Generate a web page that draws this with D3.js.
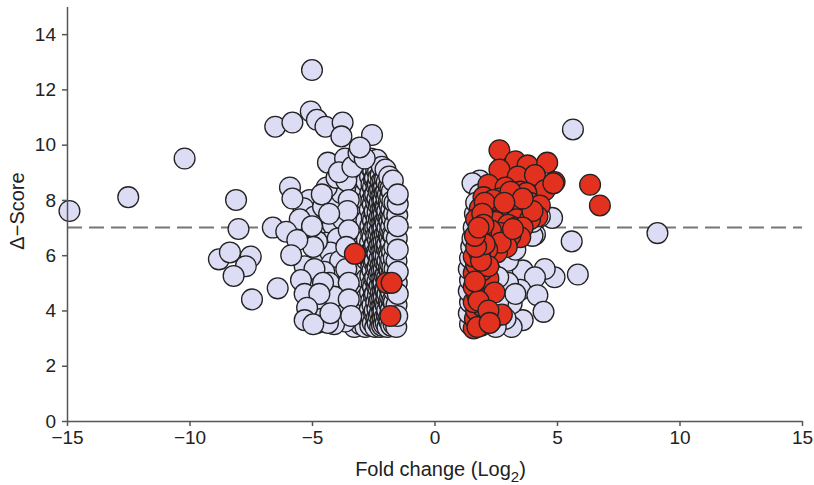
<!DOCTYPE html>
<html>
  <head>
    <style type="text/css">
      body { margin:0; background:#fff; }
      * { font-family:"Liberation Sans",Arial,Helvetica,sans-serif; }
      .axis path, .axis line { stroke:#555; stroke-width:1.5px; }
      .axis text { font-size:19px; fill:#222; }
      circle { stroke:#222; stroke-width:1.3px; }
    </style>
  </head>
  <body>
    <div id="canvas"></div>
    <script src="https://d3js.org/d3.v7.min.js"></script>
    <script type="text/javascript">

    // data: [fold change (log2), delta score]
    var xTicks = [-15, -10, -5, 0, 5, 10, 15];
    var yTicks = [0, 2, 4, 6, 8, 10, 12, 14];
    var threshold = 7;

    var downOutliers = [
      [-14.9,7.6],[-12.5,8.1],[-10.2,9.5],[-8.1,8.0],[-8.0,6.95],[-8.8,5.85],[-8.35,6.1],[-7.5,5.95],
      [-7.7,5.6],[-8.2,5.25],[-7.45,4.4],[-6.4,4.8],[-6.6,7.0],[-6.5,10.65],[-5.8,10.8],[-5.0,12.7],
      [-5.05,11.2],[-4.8,10.9],[-4.45,10.65],[-3.75,10.8],[-3.8,10.3],[-2.55,10.35],[-3.05,9.9],
      [-6.05,6.85],[-5.9,8.45],[-5.8,8.05],[-5.6,6.55],[-5.85,6.0],[-5.3,4.6],[-4.7,4.6],[-5.2,4.1],
      [-5.3,3.65],[-4.95,3.5],[-4.25,3.9]
    ];

    var downSpread = [
      [-4.35,9.35],[-3.65,9.5],[-5.1,8.0],[-5.35,7.7],[-4.9,7.4],[-4.55,7.75],[-4.15,8.0],[-3.8,8.25],
      [-4.4,8.45],[-5.15,6.7],[-4.6,6.9],[-4.15,7.1],[-3.75,7.3],[-4.4,6.45],[-3.95,6.6],[-4.75,6.0],
      [-4.25,6.1],[-4.2,5.7],[-3.85,5.8],[-4.0,5.2],[-3.8,4.85],[-4.75,4.55],[-4.4,4.2],[-4.8,3.55],
      [-3.8,4.0],[-3.65,3.6],[-4.0,8.8],[-3.6,8.7],[-3.9,9.0],[-4.6,8.2],[-3.5,8.0],[-3.55,7.6],
      [-4.3,7.5],[-3.5,6.9],[-4.8,6.5],[-3.6,6.3],[-4.5,5.4],[-3.6,5.5],[-4.3,5.0],[-3.5,5.0],
      [-4.1,4.5],[-3.5,4.4],[-4.1,3.5],[-3.4,3.8],[-5.0,5.0],[-4.6,3.7],[-3.35,9.2],[-3.1,9.7],[-2.85,9.5],
      [-5.5,7.3],[-5.0,7.05],[-4.95,6.3],[-5.3,5.6],[-4.9,5.5],[-5.45,5.1],[-4.55,5.0],[-4.35,3.55]
    ];

    var downCore = [
      [-3.27,3.4],[-3.2,3.92],[-3.3,4.4],[-3.22,4.88],[-3.28,5.42],[-3.2,5.9],[-3.3,6.45],[-3.23,6.9],
      [-3.27,7.42],[-3.2,7.88],[-3.3,8.4],[-3.22,8.9],
      [-3.02,3.5],[-2.95,3.88],[-3.05,4.3],[-2.98,4.72],[-3.04,5.1],[-2.96,5.52],[-3.03,5.9],[-2.97,6.3],
      [-3.05,6.72],[-2.98,7.1],[-3.02,7.52],[-2.95,7.9],[-3.04,8.3],[-2.97,8.72],[-3.0,9.1],
      [-2.82,3.4],[-2.76,3.77],[-2.84,4.1],[-2.78,4.45],[-2.83,4.82],[-2.77,5.15],[-2.84,5.5],[-2.79,5.86],
      [-2.82,6.2],[-2.76,6.56],[-2.83,6.9],[-2.78,7.25],[-2.84,7.6],[-2.77,7.96],[-2.82,8.3],[-2.78,8.66],
      [-2.83,9.0],[-2.77,9.35],
      [-2.62,3.45],[-2.57,3.76],[-2.64,4.05],[-2.58,4.36],[-2.63,4.65],[-2.56,4.96],[-2.62,5.25],[-2.58,5.56],
      [-2.64,5.85],[-2.57,6.16],[-2.63,6.45],[-2.58,6.76],[-2.62,7.05],[-2.56,7.36],[-2.64,7.65],[-2.58,7.96],
      [-2.62,8.25],[-2.57,8.56],[-2.63,8.85],[-2.58,9.16],[-2.6,9.5],
      [-2.42,3.4],[-2.37,3.7],[-2.44,4.0],[-2.38,4.3],[-2.43,4.6],[-2.36,4.9],[-2.42,5.2],[-2.38,5.5],
      [-2.44,5.8],[-2.37,6.1],[-2.43,6.4],[-2.38,6.7],[-2.42,7.0],[-2.36,7.3],[-2.44,7.6],[-2.38,7.9],
      [-2.42,8.2],[-2.37,8.5],[-2.43,8.8],[-2.38,9.1],[-2.35,9.45],
      [-2.22,3.4],[-2.18,3.65],[-2.23,3.9],[-2.17,4.15],[-2.22,4.4],[-2.18,4.65],[-2.23,4.9],[-2.17,5.15],
      [-2.22,5.4],[-2.18,5.65],[-2.23,5.9],[-2.17,6.15],[-2.22,6.4],[-2.18,6.65],[-2.23,6.9],[-2.17,7.15],
      [-2.22,7.4],[-2.18,7.65],[-2.23,7.9],[-2.17,8.15],[-2.22,8.4],[-2.18,8.65],[-2.2,8.9],[-2.15,9.2],
      [-2.07,3.5],[-2.03,3.75],[-2.08,4.0],[-2.02,4.25],[-2.07,4.5],[-2.03,4.75],[-2.08,5.0],[-2.02,5.25],
      [-2.07,5.5],[-2.03,5.75],[-2.08,6.0],[-2.02,6.25],[-2.07,6.5],[-2.03,6.75],[-2.08,7.0],[-2.02,7.25],
      [-2.07,7.5],[-2.03,7.75],[-2.08,8.0],[-2.02,8.25],[-2.06,8.5],[-2.02,8.75],[-2.0,9.1],
      [-1.92,3.4],[-1.88,3.7],[-1.93,4.0],[-1.87,4.3],[-1.92,4.6],[-1.88,4.9],[-1.93,5.2],[-1.87,5.5],
      [-1.92,5.8],[-1.88,6.1],[-1.93,6.4],[-1.87,6.7],[-1.92,7.0],[-1.88,7.3],[-1.93,7.6],[-1.87,7.9],
      [-1.9,8.2],[-1.86,8.5],[-1.85,8.85],
      [-1.77,3.45],[-1.73,3.75],[-1.78,4.05],[-1.72,4.35],[-1.77,4.65],[-1.73,4.95],[-1.78,5.25],[-1.72,5.55],
      [-1.77,5.85],[-1.73,6.15],[-1.78,6.45],[-1.72,6.75],[-1.77,7.05],[-1.73,7.35],[-1.76,7.65],[-1.72,7.95],
      [-1.74,8.3],[-1.7,8.7],
      [-1.56,3.4],[-1.52,3.8],[-1.55,4.2],[-1.5,4.6],[-1.54,5.0],[-1.5,5.4],[-1.55,5.8],[-1.5,6.2],
      [-1.54,6.6],[-1.5,7.05],[-1.52,7.45],[-1.5,7.85],[-1.5,8.2]
    ];

    var downCoreDense = [
      [-2.52,3.55],[-2.47,3.9],[-2.53,4.2],[-2.48,4.55],[-2.51,4.85],[-2.46,5.15],[-2.53,5.45],[-2.49,5.75],
      [-2.52,6.05],[-2.47,6.35],[-2.53,6.65],[-2.48,6.95],[-2.51,7.25],[-2.46,7.55],[-2.52,7.85],[-2.48,8.15],
      [-2.51,8.45],[-2.47,8.75],[-2.5,9.05],
      [-2.32,3.55],[-2.28,3.8],[-2.33,4.05],[-2.27,4.3],[-2.31,4.55],[-2.29,4.8],[-2.33,5.05],[-2.27,5.3],
      [-2.32,5.55],[-2.28,5.8],[-2.33,6.05],[-2.27,6.3],[-2.31,6.55],[-2.29,6.8],[-2.33,7.05],[-2.27,7.3],
      [-2.32,7.55],[-2.28,7.8],[-2.33,8.05],[-2.27,8.3],[-2.31,8.55],[-2.29,8.8],[-2.3,9.05],
      [-2.14,3.45],[-2.1,3.7],[-2.13,3.95],[-2.09,4.2],[-2.14,4.45],[-2.1,4.7],[-2.13,4.95],[-2.09,5.2],
      [-2.14,5.45],[-2.1,5.7],[-2.13,5.95],[-2.09,6.2],[-2.14,6.45],[-2.1,6.7],[-2.13,6.95],[-2.09,7.2],
      [-2.14,7.45],[-2.1,7.7],[-2.13,7.95],[-2.09,8.2],[-2.12,8.45],[-2.1,8.7],
      [-1.99,3.55],[-1.95,3.85],[-1.98,4.15],[-1.96,4.45],[-1.99,4.75],[-1.95,5.05],[-1.98,5.35],[-1.96,5.65],
      [-1.99,5.95],[-1.95,6.25],[-1.98,6.55],[-1.96,6.85],[-1.99,7.15],[-1.95,7.45],[-1.98,7.75],[-1.96,8.05],
      [-1.97,8.35],[-1.95,8.65],
      [-1.84,3.6],[-1.8,3.9],[-1.83,4.2],[-1.81,4.5],[-1.84,4.8],[-1.8,5.1],[-1.83,5.4],[-1.81,5.7],
      [-1.84,6.0],[-1.8,6.3],[-1.83,6.6],[-1.81,6.9],[-1.84,7.2],[-1.8,7.5],[-1.83,7.8],[-1.81,8.1],[-1.8,8.4],
      [-1.67,3.5],[-1.63,3.9],[-1.66,4.3],[-1.64,4.7],[-1.67,5.1],[-1.63,5.5],[-1.66,5.9],[-1.64,6.3],
      [-1.67,6.7],[-1.63,7.1],[-1.65,7.5],[-1.63,7.9]
    ];

    var upGrey = [
      [9.1,6.8],[5.65,10.55],[5.6,6.5],[5.85,5.3],[4.9,5.2],[4.5,5.5],[4.8,7.35],[4.1,6.75],[3.6,5.45],
      [4.1,5.2],[3.5,4.75],[4.2,4.55],[4.45,3.95],[3.6,3.65],[3.15,3.4],[3.15,4.25],[3.0,5.0],[3.0,5.8],
      [2.6,5.2],[4.0,6.7],[3.3,6.2],[2.9,3.7],[2.6,4.3],[2.5,3.4],[3.3,4.6],[2.3,3.6],
      [1.85,8.7],[1.55,8.6],[1.85,8.2],[2.4,8.5],[4.3,7.4],[4.0,7.2],
      [1.45,3.5],[1.4,3.9],[1.45,4.3],[1.4,4.7],[1.45,5.1],[1.4,5.5],[1.45,5.9],[1.5,6.3],
      [1.55,6.6],[1.6,7.0],[1.65,7.5],[1.7,7.9]
    ];

    var upRed = [
      [2.65,9.8],[3.3,9.4],[3.8,9.25],[4.6,9.35],[2.65,9.1],[3.4,8.85],[4.1,8.9],[4.9,8.65],[2.2,8.55],
      [2.9,8.45],[3.5,8.3],[4.5,8.35],[3.75,8.25],[2.0,8.1],[2.65,8.05],[3.3,8.0],[3.9,7.9],[4.3,7.8],
      [1.85,7.7],[2.4,7.65],[2.95,7.7],[3.6,7.6],[4.2,7.4],[1.7,7.3],[2.2,7.3],[2.75,7.35],[3.35,7.3],
      [6.35,8.55],[6.75,7.8],[4.85,8.6],
      [2.4,8.0],[3.1,8.3],[2.05,7.9],[2.5,7.2],[3.0,7.1],[3.9,7.3],[3.3,7.0],[4.0,7.6],[3.6,8.05],
      [2.85,7.9],[1.95,7.5],
      [3.6,7.0],[3.5,6.65],[3.1,6.7],[2.95,6.3],[2.7,6.8],[2.55,6.1],[2.3,6.5],[2.0,5.8],[2.3,6.9],
      [2.7,6.45],[2.15,6.2],[1.9,6.8],[2.0,7.1],[1.8,6.4],[3.2,6.95],
      [1.6,3.35],[1.9,3.45],[1.65,3.7],[2.0,3.8],[1.7,4.0],[1.95,4.15],[1.6,4.3],[2.1,4.45],[1.75,4.55],
      [1.6,4.85],[2.0,4.8],[1.8,5.1],[2.2,5.15],[1.6,5.35],[1.95,5.45],[1.7,5.65],[2.2,5.6],[1.6,5.95],
      [1.85,6.05],[2.45,4.65],[2.75,3.85],[1.75,3.4],[1.8,4.35],[1.65,5.05],[1.9,5.8],[2.05,6.4],
      [1.7,6.3],[1.65,6.7],[1.8,7.0],[2.2,4.0],[2.25,3.55]
    ];

    var downRed = [[-3.25,6.05],[-1.95,5.0],[-1.75,5.0],[-1.8,3.8]];

    var width = 814, height = 485;
    var x = d3.scaleLinear().domain([-15, 15]).range([67, 802]);
    var y = d3.scaleLinear().domain([0, 15]).range([421, 6.5]);

    var svg = d3.select('#canvas').append('svg')
      .attr('width', width)
      .attr('height', height);

    var dot = function (data, fill) {
      svg.append('g').selectAll('circle')
        .data(data)
        .enter().append('circle')
          .attr('cx', function (d) { return x(d[0]); })
          .attr('cy', function (d) { return y(d[1]); })
          .attr('r', 10.4)
          .style('fill', fill);
    };

    // dashed cut-off line
    svg.append('line')
      .attr('x1', x(-15)).attr('x2', x(15))
      .attr('y1', y(threshold)).attr('y2', y(threshold))
      .style('stroke', '#777')
      .style('stroke-width', 2)
      .style('stroke-dasharray', '15,7');

    var grey = '#dcdcf4', red = '#e2321f';
    // core drawn left to right so the edge column sits on top
    var core = downCore.concat(downCoreDense).sort(function (a, b) { return a[0] - b[0]; });
    dot(core, grey);
    dot(downSpread, grey);
    dot(downOutliers, grey);
    dot(upGrey, grey);
    dot(upRed, red);
    dot(downRed, red);

    svg.append('g').attr('class', 'axis')
      .attr('transform', 'translate(0,' + y(0) + ')')
      .call(d3.axisBottom(x).tickValues(xTicks).tickSizeInner(5).tickSizeOuter(0).tickPadding(5)
        .tickFormat(function (d) { return d < 0 ? '\u2212' + Math.abs(d) : d; }));

    svg.append('g').attr('class', 'axis')
      .attr('transform', 'translate(' + x(-15) + ',0)')
      .call(d3.axisLeft(y).tickValues(yTicks).tickSizeInner(5).tickSizeOuter(0).tickPadding(6));

    svg.append('text')
      .attr('x', x(0) + 6).attr('y', 476)
      .attr('text-anchor', 'middle')
      .style('font-size', '20px').style('fill', '#222')
      .html('Fold change (Log<tspan dy="6" font-size="15px">2</tspan><tspan dy="-6">)</tspan>');

    svg.append('text')
      .attr('transform', 'translate(24,' + y(7.6) + ') rotate(-90)')
      .attr('text-anchor', 'middle')
      .style('font-size', '20px').style('fill', '#222')
      .text('\u0394\u2212Score');

    </script>
  </body>
</html>
